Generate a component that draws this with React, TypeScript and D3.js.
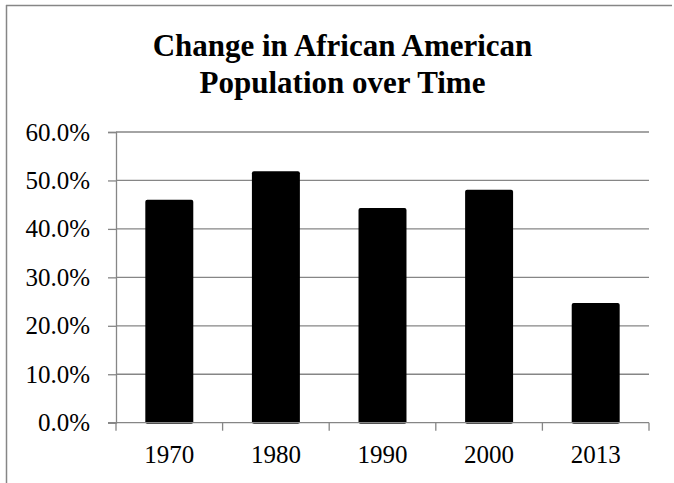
import { useEffect, useRef } from "react";
import * as d3 from "d3";

const years = ["1970", "1980", "1990", "2000", "2013"];
const shares = [0.46, 0.519, 0.443, 0.481, 0.247];
const yTicks = [0, 0.1, 0.2, 0.3, 0.4, 0.5, 0.6];
const titleLines = ["Change in African American", "Population over Time"];

export default function App() {
  const ref = useRef<SVGSVGElement | null>(null);

  useEffect(() => {
    const width = 674,
      height = 483,
      margin = { top: 132, right: 25, bottom: 60.3, left: 116 };
    const svg = d3.select(ref.current);
    svg.selectAll("*").remove();

    const font = "Liberation Serif";
    const grey = "#868686";

    // outer frame: only its left and top edges fall inside the window
    svg
      .append("line")
      .attr("x1", 6.5)
      .attr("x2", 6.5)
      .attr("y1", 5)
      .attr("y2", height)
      .attr("stroke", grey)
      .attr("stroke-width", 1.5);
    svg
      .append("line")
      .attr("x1", 6)
      .attr("x2", width - 2)
      .attr("y1", 5.5)
      .attr("y2", 5.5)
      .attr("stroke", grey)
      .attr("stroke-width", 1.5);

    // title
    svg
      .append("g")
      .selectAll("text")
      .data(titleLines)
      .enter()
      .append("text")
      .attr("x", 342.5)
      .attr("y", (_, i) => 56 + i * 37)
      .attr("text-anchor", "middle")
      .attr("font-family", font)
      .attr("font-weight", "bold")
      .attr("font-size", 31)
      .text(d => d);

    const x = d3
      .scaleBand<string>()
      .domain(years)
      .range([margin.left, width - margin.right])
      .paddingInner(0.55)
      .paddingOuter(0.275);
    const y = d3
      .scaleLinear()
      .domain([0, 0.6])
      .range([height - margin.bottom, margin.top]);

    // gridlines
    svg
      .append("g")
      .selectAll("line")
      .data(yTicks.filter(t => t > 0))
      .enter()
      .append("line")
      .attr("x1", margin.left)
      .attr("x2", width - margin.right)
      .attr("y1", d => y(d))
      .attr("y2", d => y(d))
      .attr("stroke", grey)
      .attr("stroke-width", 1.3);

    // y axis
    const yAxis = svg
      .append("g")
      .attr("transform", `translate(${margin.left},0)`)
      .call(
        d3
          .axisLeft(y)
          .tickValues(yTicks)
          .tickSize(8)
          .tickPadding(18)
          .tickFormat(d3.format(".1%") as any)
      );
    yAxis.attr("font-family", font).attr("font-size", 25);
    yAxis.selectAll("path, line").attr("stroke", grey).attr("stroke-width", 1.3);
    yAxis.selectAll("text").attr("fill", "black");

    // bars
    svg
      .append("g")
      .selectAll("rect")
      .data(years)
      .enter()
      .append("rect")
      .attr("x", d => x(d)!)
      .attr("width", x.bandwidth())
      .attr("y", (_, i) => y(shares[i]))
      .attr("height", (_, i) => y(0) - y(shares[i]) + 1)
      .attr("rx", 2)
      .attr("fill", "black");

    // x axis, ticks sit between the categories
    const step = x.step();
    const boundaries = years.map(d => x(d)! - (step * x.paddingInner()) / 2);
    boundaries.push(width - margin.right);
    const xg = svg.append("g");
    xg.append("line")
      .attr("x1", margin.left - 8)
      .attr("x2", width - margin.right)
      .attr("y1", y(0))
      .attr("y2", y(0))
      .attr("stroke", grey)
      .attr("stroke-width", 1.3);
    xg.selectAll("line.tick")
      .data(boundaries)
      .enter()
      .append("line")
      .attr("class", "tick")
      .attr("x1", d => d)
      .attr("x2", d => d)
      .attr("y1", y(0))
      .attr("y2", y(0) + 8)
      .attr("stroke", grey)
      .attr("stroke-width", 1.3);
    xg.selectAll("text")
      .data(years)
      .enter()
      .append("text")
      .attr("x", d => x(d)! + x.bandwidth() / 2)
      .attr("y", y(0) + 40)
      .attr("text-anchor", "middle")
      .attr("font-family", font)
      .attr("font-size", 25)
      .text(d => d);
  }, []);

  return (
    <svg
      ref={ref}
      width={674}
      height={483}
      style={{ position: "absolute", left: 0, top: 0 }}
    />
  );
}
